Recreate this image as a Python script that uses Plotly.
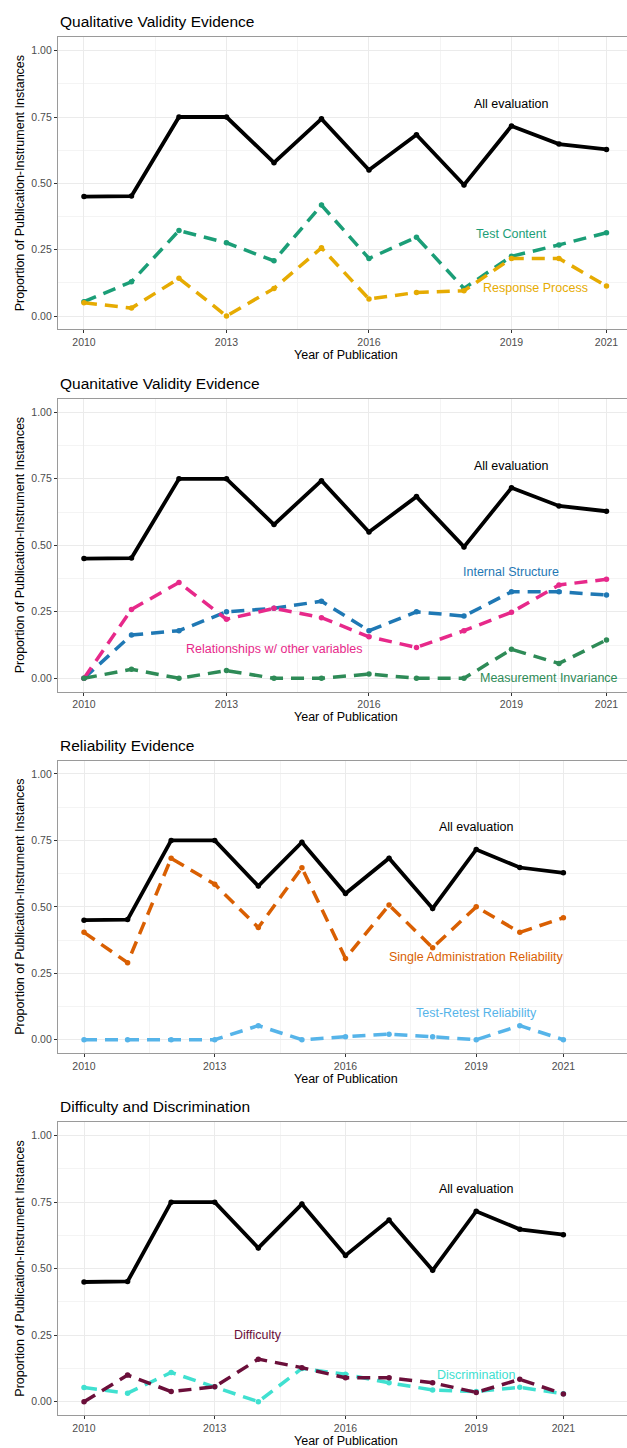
import plotly.graph_objects as go

# ---- data -------------------------------------------------------------
years = list(range(2010, 2022))

all_evaluation = [0.45, 0.452, 0.75, 0.75, 0.578, 0.743, 0.55, 0.683, 0.494, 0.716, 0.648, 0.628]

test_content = [0.054, 0.129, 0.322, 0.276, 0.208, 0.418, 0.217, 0.297, 0.104, 0.225, 0.268, 0.314]
response_process = [0.05, 0.03, 0.142, 0.0, 0.104, 0.257, 0.064, 0.089, 0.095, 0.217, 0.217, 0.113]

internal_structure = [0.0, 0.163, 0.179, 0.25, 0.263, 0.29, 0.179, 0.25, 0.234, 0.325, 0.325, 0.313]
relationships = [0.0, 0.259, 0.36, 0.222, 0.263, 0.228, 0.156, 0.116, 0.179, 0.248, 0.351, 0.372]
measurement_invariance = [0.0, 0.034, 0.0, 0.029, 0.0, 0.0, 0.016, 0.0, 0.0, 0.109, 0.056, 0.144]

single_admin = [0.404, 0.29, 0.683, 0.585, 0.422, 0.647, 0.306, 0.507, 0.346, 0.50, 0.404, 0.459]
test_retest = [0.0, 0.0, 0.0, 0.0, 0.053, 0.0, 0.011, 0.021, 0.011, 0.0, 0.053, 0.0]

difficulty = [0.0, 0.1, 0.038, 0.056, 0.16, 0.128, 0.09, 0.09, 0.071, 0.035, 0.084, 0.029]
discrimination = [0.053, 0.032, 0.11, 0.056, 0.0, 0.125, 0.103, 0.071, 0.044, 0.038, 0.054, 0.03]

x_tick_vals = [2010, 2013, 2016, 2019, 2021]
x_minor_vals = [2011.5, 2014.5, 2017.5, 2020]
y_tick_vals = [0, 0.25, 0.5, 0.75, 1.0]
y_tick_text = ["0.00", "0.25", "0.50", "0.75", "1.00"]
y_minor_vals = [0.125, 0.375, 0.625, 0.875]

panel_titles = [
    "Qualitative Validity Evidence",
    "Quanitative Validity Evidence",
    "Reliability Evidence",
    "Difficulty and Discrimination",
]

# (name, values, colour, label year, label value)
panels = [
    [
        ("Test Content", test_content, "#1B9E77", 2019, 0.31),
        ("Response Process", response_process, "#E6AB02", 2019.5, 0.107),
    ],
    [
        ("Internal Structure", internal_structure, "#1F78B4", 2019, 0.40),
        ("Relationships w/ other variables", relationships, "#E7298A", 2014, 0.109),
        ("Measurement Invariance", measurement_invariance, "#2E8B57", 2019.8, 0.0),
    ],
    [
        ("Single Administration Reliability", single_admin, "#D95F02", 2019, 0.31),
        ("Test-Retest Reliability", test_retest, "#56B4E9", 2019, 0.10),
    ],
    [
        ("Discrimination", discrimination, "#40E0D0", 2019, 0.10),
        ("Difficulty", difficulty, "#6B0F3A", 2014, 0.25),
    ],
]
all_label_pos = (2019, 0.80)

# ---- geometry (pixels) -------------------------------------------------
W, H = 627, 1448
plot_left = 58
# top / bottom pixel rows of each panel's plotting area
panel_rows = [(37.4, 329.3), (399.0, 691.6), (760.7, 1053.0), (1122.4, 1415.0)]
x_ranges = [
    [2009.453, 2021.432],
    [2009.453, 2021.432],
    [2009.403, 2022.46],
    [2009.403, 2022.46],
]
title_y = [21.7, 383.0, 745.7, 1106.7]
xtitle_y = [355.0, 717.3, 1079.0, 1441.0]
x_center = 345.5

FONT = "Liberation Sans, Arial, sans-serif"
GRID = "#EBEBEB"
MINOR = "#F4F4F4"

fig = go.Figure()
annotations = []

for i, series in enumerate(panels):
    n = "" if i == 0 else str(i + 1)
    xa, ya = "x" + n, "y" + n

    for name, vals, col, lx, ly in series:
        fig.add_trace(go.Scatter(
            x=years, y=vals, mode="lines+markers", name=name,
            line=dict(color=col, width=3.5, dash="13px,8px"),
            marker=dict(color=col, size=5.5),
            xaxis=xa, yaxis=ya, showlegend=False, cliponaxis=False,
        ))
        annotations.append(dict(
            x=lx, y=ly, xref=xa, yref=ya, text=name, showarrow=False,
            font=dict(family=FONT, size=12.5, color=col),
            xanchor="center", yanchor="middle",
        ))

    fig.add_trace(go.Scatter(
        x=years, y=all_evaluation, mode="lines+markers", name="All evaluation",
        line=dict(color="black", width=3.8),
        marker=dict(color="black", size=5.5),
        xaxis=xa, yaxis=ya, showlegend=False, cliponaxis=False,
    ))
    annotations.append(dict(
        x=all_label_pos[0], y=all_label_pos[1], xref=xa, yref=ya,
        text="All evaluation", showarrow=False,
        font=dict(family=FONT, size=12.5, color="black"),
        xanchor="center", yanchor="middle",
    ))

    top, bottom = panel_rows[i]
    y_dom = [1 - bottom / H, 1 - top / H]
    x_dom = [plot_left / W, 1.0]

    fig.layout["xaxis" + n] = dict(
        domain=x_dom, anchor=ya, range=x_ranges[i],
        tickvals=x_tick_vals, ticktext=[str(v) for v in x_tick_vals],
        showgrid=True, gridcolor=GRID, gridwidth=1.1,
        minor=dict(tickvals=x_minor_vals, showgrid=True, gridcolor=MINOR, gridwidth=0.8),
        zeroline=False, showline=True, linecolor="#9A9A9A", linewidth=1.2, mirror=True,
        ticks="outside", ticklen=3, tickcolor="#333333", tickwidth=1,
        tickfont=dict(family=FONT, size=10.5, color="#4D4D4D"),
    )
    fig.layout["yaxis" + n] = dict(
        domain=y_dom, anchor=xa, range=[-0.05, 1.05],
        tickvals=y_tick_vals, ticktext=y_tick_text,
        showgrid=True, gridcolor=GRID, gridwidth=1.1,
        minor=dict(tickvals=y_minor_vals, showgrid=True, gridcolor=MINOR, gridwidth=0.8),
        zeroline=False, showline=True, linecolor="#9A9A9A", linewidth=1.2, mirror=False,
        ticks="outside", ticklen=3, tickcolor="#333333", tickwidth=1,
        tickfont=dict(family=FONT, size=10.5, color="#4D4D4D"),
    )

    # panel title
    annotations.append(dict(
        x=plot_left / W, y=1 - title_y[i] / H, xref="paper", yref="paper",
        text=panel_titles[i], showarrow=False, xanchor="left", yanchor="middle",
        font=dict(family=FONT, size=15.5, color="black"),
    ))
    # x axis title
    annotations.append(dict(
        x=x_center / W, y=1 - xtitle_y[i] / H, xref="paper", yref="paper",
        text="Year of Publication", showarrow=False, xanchor="center", yanchor="middle",
        font=dict(family=FONT, size=12.5, color="black"),
    ))
    # y axis title
    annotations.append(dict(
        x=20 / W, y=1 - (top + bottom) / 2 / H, xref="paper", yref="paper",
        text="Proportion of Publication-Instrument Instances", showarrow=False,
        textangle=-90, xanchor="center", yanchor="middle",
        font=dict(family=FONT, size=12.5, color="black"),
    ))

fig.update_layout(
    width=W, height=H, margin=dict(l=0, r=0, t=0, b=0),
    paper_bgcolor="white", plot_bgcolor="white",
    annotations=annotations, showlegend=False,
)

fig.write_html("out.html")
